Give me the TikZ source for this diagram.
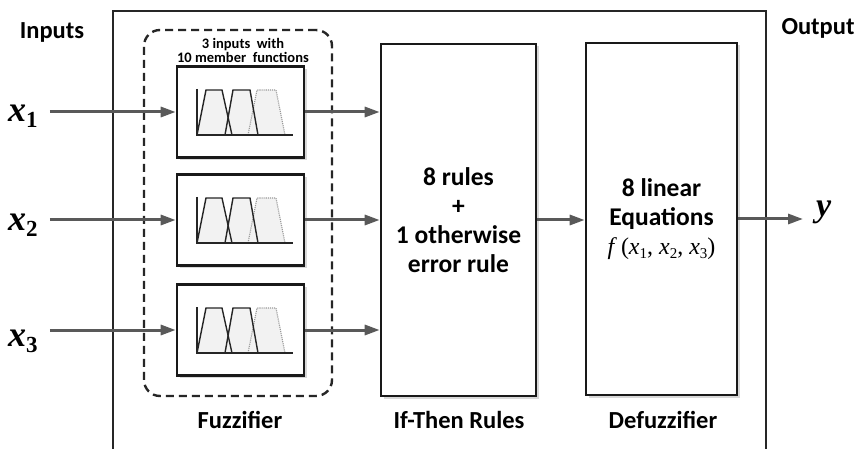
\documentclass[tikz,border=0pt]{standalone}
\usepackage{fontspec}
\setmainfont{Carlito}
\newfontfamily\tms{Liberation Serif}
\usetikzlibrary{arrows.meta,shadows}
\newcommand{\bigx}[1]{{\tms\bfseries\itshape x}\raisebox{-6pt}{\tms\bfseries\upshape\fontsize{23}{23}\selectfont #1}}
\newcommand{\smx}[1]{{\itshape x}\raisebox{-4pt}{\upshape\fontsize{15}{15}\selectfont #1}}
\newcommand{\mfplot}[1]{%
  \begin{scope}[shift={(#1.center)}]
    \fill[black!5] (-43.5,23) -- (-34.5,-22) -- (-18.5,-22) -- (-8.5,23) -- cycle;
    \fill[black!5] (-15.5,23) -- (-7.5,-22) -- (9.5,-22) -- (17.5,23) -- cycle;
    \fill[black!5] (7.5,23) -- (16.5,-22) -- (35.5,-22) -- (44.5,23) -- cycle;
    \draw[black!40, line width=1.1pt, densely dotted] (7.5,23) -- (16.5,-22) -- (35.5,-22) -- (44.5,23);
    \draw[black!85, line width=1.4pt] (-43.5,23) -- (-34.5,-22) -- (-18.5,-22) -- (-8.5,23);
    \draw[black!85, line width=1.4pt] (-15.5,23) -- (-7.5,-22) -- (9.5,-22) -- (17.5,23);
    \draw[black!85, line width=1.2pt] (-43.5,-23) -- (-43.5,23) -- (52.5,23);
  \end{scope}}
\begin{document}
\begin{tikzpicture}[x=1pt,y=-1pt,
  box/.style={draw=black!90, line width=2.6pt, fill=white, rectangle, inner sep=0pt,
    drop shadow={shadow xshift=2.5pt, shadow yshift=-2.5pt, opacity=0.5, fill=black!30}},
  flow/.style={draw=black!65, line width=3pt, -{Triangle[length=15pt,width=10pt]}},
  lbl/.style={font=\fontsize{24.5}{28}\selectfont\bfseries, inner sep=0pt, anchor=base},
  xlbl/.style={font=\fontsize{36}{40}\selectfont, inner sep=0pt, anchor=base west},
  frame/.style={draw=black!85, line width=2.4pt},
  grp/.style={draw=black!85, line width=2.4pt, dash pattern=on 8pt off 5pt, rounded corners=16pt, inner sep=0pt}
]
\useasboundingbox (0,0) rectangle (862,449);
\fill[white] (0,0) rectangle (862,449);

% outer frame
\draw[frame] (113,449) -- (113,11) -- (766,11) -- (766,449);

% labels top
\node[lbl] (inputs) at (52,39) {Inputs};
\node[lbl] (output) at (818,35) {Output};

% fuzzifier group
\node[grp, minimum width=188, minimum height=366] (group) at (238,213) {};
\node[font=\fontsize{14.5}{14}\selectfont\bfseries, align=center, inner sep=0pt] (note) at (243,50) {3 inputs~ with\\10 member~ functions};

\node[box, minimum width=127, minimum height=91] (fz1) at (240.5,112) {};
\node[box, minimum width=127, minimum height=91] (fz2) at (240.5,220) {};
\node[box, minimum width=127, minimum height=91] (fz3) at (240.5,330) {};
\mfplot{fz1}
\mfplot{fz2}
\mfplot{fz3}

% rules and defuzzifier
\node[box, minimum width=155, minimum height=352, align=center,
  font=\fontsize{25.5}{29}\selectfont\bfseries] (rules) at (458.5,220) {8 rules\\+\\1 otherwise\\error rule};
\node[box, minimum width=151, minimum height=352, align=center,
  font=\fontsize{25.5}{29}\selectfont\bfseries] (defz) at (661.5,219)
  {8 linear\\Equations\\{\tms\mdseries\fontsize{24}{29}\selectfont\textit{f}\,(\smx{1}, \smx{2}, \smx{3})}};

% input labels
\node[xlbl] (lx1) at (8,122) {\bigx{1}};
\node[xlbl] (lx2) at (8,230) {\bigx{2}};
\node[xlbl] (lx3) at (8,346) {\bigx{3}};
\node[font=\fontsize{34}{38}\selectfont\tms\bfseries\itshape, inner sep=0pt, anchor=base west] (ly) at (816,217) {y};

% connectors
\draw[flow] ([xshift=12pt]lx1.east |- fz1.west) -- (fz1.west);
\draw[flow] ([xshift=12pt]lx1.east |- fz2.west) -- (fz2.west);
\draw[flow] ([xshift=12pt]lx1.east |- fz3.west) -- (fz3.west);
\draw[flow] (fz1.east) -- (fz1.east -| rules.west);
\draw[flow] (fz2.east) -- (fz2.east -| rules.west);
\draw[flow] (fz3.east) -- (fz3.east -| rules.west);
\draw[flow] (rules.east) -- (rules.east -| defz.west);
\coordinate (yend) at ([xshift=-13pt]ly.west |- defz.east);
\draw[flow] (defz.east) -- (yend);

% bottom labels
\node[lbl] (fzl) at (240,428) {Fuzzifier};
\node[lbl] (rl) at (459,428) {If-Then Rules};
\node[lbl] (dl) at (663,428) {Defuzzifier};
\end{tikzpicture}
\end{document}
